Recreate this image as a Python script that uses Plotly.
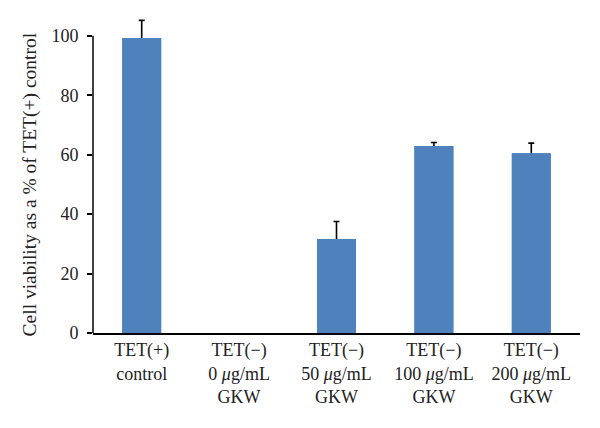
import plotly.graph_objects as go

categories = [
    "TET(+)<br>control",
    "TET(−)<br>0 <i>μ</i>g/mL<br>GKW",
    "TET(−)<br>50 <i>μ</i>g/mL<br>GKW",
    "TET(−)<br>100 <i>μ</i>g/mL<br>GKW",
    "TET(−)<br>200 <i>μ</i>g/mL<br>GKW",
]
viability = [99.3, 0, 31.6, 62.9, 60.5]
error_up = [5.9, None, 5.9, 1.2, 3.4]   # None = no error bar shown
y_ticks = [0, 20, 40, 60, 80, 100]
y_title = "Cell viability as a % of TET(+) control"

# plotly.js skips error bars whose value is NaN ("NaN" survives JSON encoding)
err = [e if e is not None else "NaN" for e in error_up]

bar_color = "#4F81BD"

fig = go.Figure()
# bars with symmetric error bars ...
fig.add_trace(go.Bar(
    x=categories, y=viability, width=0.4,
    marker=dict(color=bar_color, line=dict(width=0)),
    error_y=dict(type="data", array=err, color="black", thickness=1.6, width=3),
))
# ... then the same bars drawn again on top, hiding the lower half of each error bar
fig.add_trace(go.Bar(
    x=categories, y=viability, width=0.4,
    marker=dict(color=bar_color, line=dict(width=0)),
    hoverinfo="skip",
))

# y axis line drawn only up to 100 (range extended so error bars are not clipped)
fig.add_shape(type="line", xref="paper", yref="y", x0=0, x1=0, y0=0, y1=100,
              line=dict(color="black", width=1.5))

# axis title centred on the 0-100 part of the axis
fig.add_annotation(text=y_title, xref="paper", yref="y", x=0, y=50,
                   textangle=-90, showarrow=False, xanchor="center", yanchor="middle",
                   xshift=-63, font=dict(size=19.5))

fig.update_layout(
    width=600,
    height=428,
    margin=dict(l=93, r=20, t=18, b=95),
    paper_bgcolor="white",
    plot_bgcolor="white",
    font=dict(family="Liberation Serif, DejaVu Serif, serif", size=18, color="#222"),
    showlegend=False,
    barmode="overlay",
)
fig.update_xaxes(
    range=[-0.5, 4.5],
    showline=True,
    linecolor="black",
    linewidth=1.5,
    ticks="",
    showgrid=False,
    tickfont=dict(size=18),
    automargin=False,
)
fig.update_yaxes(
    range=[0, 106],
    tickvals=y_ticks,
    showline=False,
    ticks="outside",
    ticklen=5,
    tickwidth=1.5,
    tickcolor="black",
    showgrid=False,
    zeroline=False,
    tickfont=dict(size=18),
    ticklabelstandoff=5,
    automargin=False,
)

fig.write_html("out.html", config={"displayModeBar": False},
               post_script="document.body.style.margin='0';")
